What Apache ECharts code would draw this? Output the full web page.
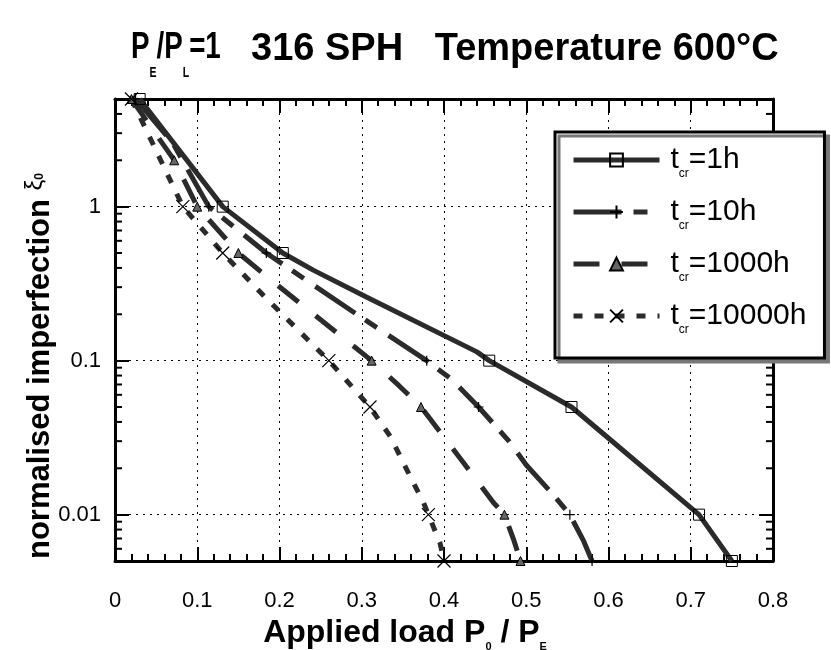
<!DOCTYPE html>
<html><head><meta charset="utf-8">
<script src="https://cdn.jsdelivr.net/npm/echarts@6/dist/echarts.min.js"></script>
<style>html,body{margin:0;padding:0;background:#fff}#c{width:831px;height:650px}</style>
</head><body><div id="c"></div>
<script>
// ---- data ----
const seriesNames = ['1h', '10h', '1000h', '10000h'];
const x1h = [0.03, 0.131, 0.204, 0.241, 0.305, 0.44, 0.455, 0.555, 0.603, 0.71, 0.75];
const y1h = [5, 1, 0.5, 0.387, 0.26, 0.114, 0.1, 0.05, 0.0304, 0.01, 0.005];
const x10h = [0.025, 0.07, 0.114, 0.184, 0.241, 0.294, 0.379, 0.41, 0.442, 0.479, 0.50, 0.53, 0.553, 0.57, 0.58];
const y10h = [5, 2.6, 1, 0.5, 0.31, 0.2, 0.1, 0.075, 0.05, 0.03, 0.021, 0.014, 0.01, 0.0067, 0.005];
const x1000h = [0.02, 0.072, 0.10, 0.15, 0.185, 0.312, 0.345, 0.372, 0.423, 0.46, 0.4735, 0.485, 0.493];
const y1000h = [5, 2, 1, 0.5, 0.35, 0.1, 0.069, 0.05, 0.022, 0.012, 0.01, 0.0068, 0.005];
const x10000h = [0.02, 0.0825, 0.131, 0.182, 0.26, 0.31, 0.335, 0.35, 0.363, 0.375, 0.381, 0.395, 0.40];
const y10000h = [5, 1, 0.5, 0.26, 0.1, 0.05, 0.032, 0.022, 0.016, 0.012, 0.01, 0.0066, 0.005];
const markerLevels = [5, 2, 1, 0.5, 0.1, 0.05, 0.01, 0.005];
const xTickLabels = ['0', '0.1', '0.2', '0.3', '0.4', '0.5', '0.6', '0.7', '0.8'];
const yTickValues = [0.01, 0.1, 1];
const yMinorTicks = [0.006, 0.007, 0.008, 0.009, 0.02, 0.03, 0.04, 0.05, 0.06, 0.07, 0.08, 0.09,
  0.2, 0.3, 0.4, 0.5, 0.6, 0.7, 0.8, 0.9, 2, 3, 4];

// ---- chart ----
const FONT = '"Liberation Sans", Arial, sans-serif';
const LINE = '#2b2b2b';
function build(xs, ys) {
  return xs.map((x, i) => {
    const isMark = markerLevels.some(m => Math.abs(m - ys[i]) < 1e-9);
    return isMark ? { value: [x, ys[i]] } : { value: [x, ys[i]], symbol: 'none' };
  });
}
const PLUS = 'path://M5,0L5,10M0,5L10,5';
const CROSS = 'path://M0,0L10,10M10,0L0,10';

const chart = echarts.init(document.getElementById('c'), null, { renderer: 'canvas' });
const axisLineStyle = { color: '#000', width: 3 };
const tickStyle = { color: '#000', width: 2 };
chart.setOption({
  backgroundColor: '#fff',
  animation: false,
  title: [{
    text: '316 SPH   Temperature 600°C',
    left: 246, top: 26,
    textStyle: { fontFamily: FONT, fontSize: 38, fontWeight: 'bold', color: '#000' }
  }],
  graphic: [{
    type: 'text', x: 131, y: 16, scaleX: 0.75,
    style: {
      text: '{b|P}{s|E}{b|/P}{s|L}{b|=1}',
      fill: '#000',
      rich: {
        b: { fontFamily: FONT, fontSize: 37, fontWeight: 'bold', fill: '#000' },
        s: { fontFamily: FONT, fontSize: 14, fontWeight: 'bold', fill: '#000', padding: [50, 0, 0, 0] }
      }
    }
  }],
  legend: {
    orient: 'vertical', left: 555, top: 132,
    data: seriesNames,
    itemWidth: 86, itemHeight: 16, itemGap: 17,
    padding: [13, 18, 22, 16],
    backgroundColor: '#fff', borderColor: '#000', borderWidth: 3,
    shadowColor: '#777', shadowOffsetX: 4, shadowOffsetY: 4, shadowBlur: 0,
    lineStyle: { width: 5 },
    formatter: n => '{t|t}{s|cr}=' + n,
    textStyle: {
      fontFamily: FONT, fontSize: 30, color: '#000',
      rich: {
        t: { fontFamily: FONT, fontSize: 30, color: '#000', padding: [0, 0, 0, 6] },
        s: { fontFamily: FONT, fontSize: 12, color: '#000', padding: [28, 0, 0, 0] }
      }
    }
  },
  grid: { left: 115, right: 58, top: 99, bottom: 89, containLabel: false, outerBoundsMode: 'none' },
  xAxis: [{
    type: 'value', min: 0, max: 0.8, interval: 0.1, position: 'bottom',
    axisLine: { show: true, onZero: false, lineStyle: axisLineStyle },
    axisTick: { show: true, inside: true, length: 14, lineStyle: tickStyle },
    minorTick: { show: true, splitNumber: 5, length: 7, lineStyle: tickStyle },
    splitLine: { show: true, lineStyle: { color: '#000', width: 1, type: [2, 5] } },
    axisLabel: { fontFamily: FONT, fontSize: 22, color: '#000', margin: 29,
      formatter: v => xTickLabels[Math.round(v * 10)] },
    name: '{b|Applied load P}{s|0}{b| / P}{s|E}', nameLocation: 'middle', nameGap: 54,
    nameMoveOverlap: false,
    nameTextStyle: {
      padding: [0, 78, 0, 0],
      rich: {
        b: { fontFamily: FONT, fontSize: 32, fontWeight: 'bold', color: '#000' },
        s: { fontFamily: FONT, fontSize: 11, fontWeight: 'bold', color: '#000', padding: [26, 0, 0, 0] }
      }
    }
  }, {
    type: 'value', min: 0, max: 0.8, interval: 0.1, position: 'top',
    axisLine: { show: true, onZero: false, lineStyle: axisLineStyle },
    axisTick: { show: true, inside: true, length: 14, lineStyle: tickStyle },
    minorTick: { show: true, splitNumber: 5, length: 7, lineStyle: tickStyle },
    splitLine: { show: false }, axisLabel: { show: false }
  }],
  yAxis: [{
    type: 'log', logBase: 10, min: 0.005, max: 5, position: 'left',
    axisLine: { show: true, onZero: false, lineStyle: axisLineStyle },
    axisTick: { show: true, inside: true, length: 14, lineStyle: tickStyle },
    splitLine: { show: true, lineStyle: { color: '#000', width: 1, type: [2, 5] } },
    axisLabel: { fontFamily: FONT, fontSize: 22, color: '#000', margin: 14,
      showMinLabel: false, showMaxLabel: false,
      formatter: v => {
        const t = yTickValues.find(k => Math.abs(k - v) / k < 1e-6);
        return t === undefined ? '' : String(t);
      } },
    name: '{b|normalised imperfection }{g|ξ}{s|0}', nameLocation: 'middle', nameGap: 58,
    nameMoveOverlap: false,
    nameTextStyle: {
      padding: [0, 72, 0, 0],
      rich: {
        b: { fontFamily: FONT, fontSize: 31, fontWeight: 'bold', color: '#000' },
        g: { fontFamily: FONT, fontSize: 24, color: '#000', padding: [0, 0, 10, 0] },
        s: { fontFamily: FONT, fontSize: 12, fontWeight: 'bold', color: '#000' }
      }
    }
  }, {
    type: 'log', logBase: 10, min: 0.005, max: 5, position: 'right',
    axisLine: { show: true, onZero: false, lineStyle: axisLineStyle },
    axisTick: { show: true, inside: true, length: 14, lineStyle: tickStyle },
    splitLine: { show: false }, axisLabel: { show: false }
  }],
  series: [
    {
      name: '1h', type: 'line', data: build(x1h, y1h), z: 5,
      lineStyle: { color: LINE, width: 5, type: 'solid' },
      symbol: 'rect', symbolSize: 11, showAllSymbol: true,
      itemStyle: { color: 'rgba(255,255,255,0)', borderColor: '#000', borderWidth: 1 }
    },
    {
      name: '10h', type: 'line', data: build(x10h, y10h), z: 4,
      lineStyle: { color: LINE, width: 5, type: [48, 12, 14, 14] },
      symbol: PLUS, symbolSize: 10, showAllSymbol: true,
      itemStyle: { color: 'rgba(0,0,0,0)', borderColor: '#000', borderWidth: 1.2 }
    },
    {
      name: '1000h', type: 'line', data: build(x1000h, y1000h), z: 4,
      lineStyle: { color: LINE, width: 5, type: [26, 22] },
      symbol: 'triangle', symbolSize: 9, showAllSymbol: true,
      itemStyle: { color: '#666', borderColor: '#000', borderWidth: 1 }
    },
    {
      name: '10000h', type: 'line', data: build(x10000h, y10000h), z: 4,
      lineStyle: { color: LINE, width: 5, type: [9, 12] },
      symbol: CROSS, symbolSize: 13, showAllSymbol: true,
      itemStyle: { color: 'rgba(0,0,0,0)', borderColor: '#000', borderWidth: 1.2 }
    },
    {
      name: 'minorY', type: 'custom', silent: true, z: 3,
      data: yMinorTicks.map(v => [0, v]),
      encode: { x: 0, y: 1 },
      renderItem: (params, api) => {
        const v = api.value(1);
        const l = api.coord([0, v]);
        const r = api.coord([0.8, v]);
        return {
          type: 'group', children: [
            { type: 'line', shape: { x1: l[0], y1: l[1], x2: l[0] + 7, y2: l[1] }, style: { stroke: '#000', lineWidth: 2 } },
            { type: 'line', shape: { x1: r[0], y1: r[1], x2: r[0] - 7, y2: r[1] }, style: { stroke: '#000', lineWidth: 2 } }
          ]
        };
      }
    }
  ]
});
</script></body></html>
